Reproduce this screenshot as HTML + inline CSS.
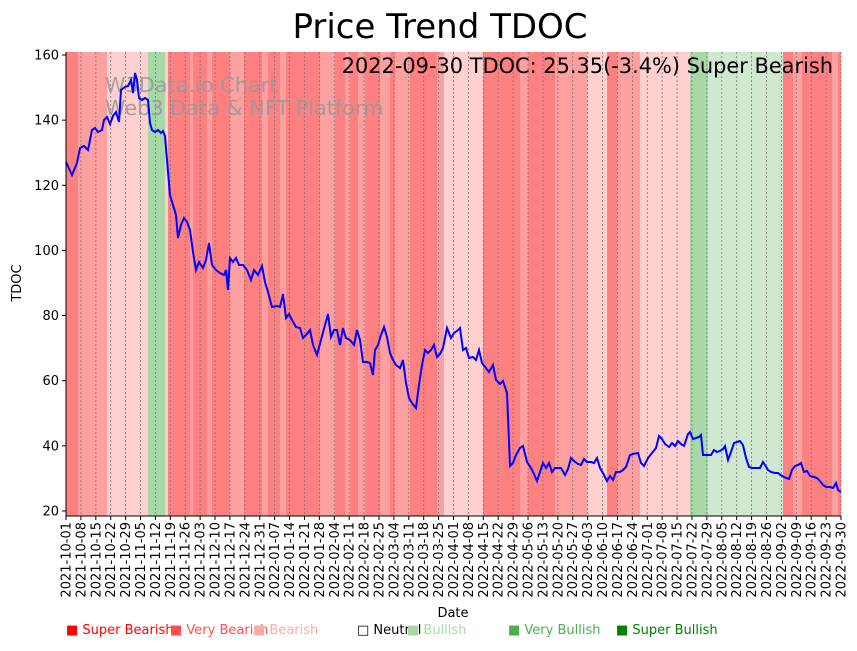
<!DOCTYPE html>
<html><head><style>body{margin:0;background:#fff}svg text{font-family:"DejaVu Sans","Liberation Sans",sans-serif}</style></head><body>
<svg width="857" height="646" viewBox="0 0 857 646" xmlns="http://www.w3.org/2000/svg">
<rect width="857" height="646" fill="#fff"/>
<g id="bands"></g>
<g id="grid"></g>
<text x="440" y="38" font-size="34" text-anchor="middle">Price Trend TDOC</text>
<text x="105" y="92" font-size="20.8" fill="#999" opacity="0.9">W3Data.io Chart</text>
<text x="105" y="115" font-size="20.8" fill="#999" opacity="0.9">Web3 Data &amp; NFT Platform</text>
<text x="833" y="73" font-size="20.9" text-anchor="end">2022-09-30 TDOC: 25.35(-3.4%) Super Bearish</text>
<polyline id="line" fill="none" stroke="#0000ff" stroke-width="2"/>
<g id="axes"></g>
<text x="21" y="283" font-size="13" text-anchor="middle" transform="rotate(-90 21 283)">TDOC</text>
<text x="453" y="617" font-size="13" text-anchor="middle">Date</text>
<g font-size="13">
<text x="66" y="634" fill="#ff0000">■ Super Bearish</text>
<text x="170" y="634" fill="#ff5050">■ Very Bearish</text>
<text x="253" y="634" fill="#ffaaaa">■ Bearish</text>
<text x="357" y="634" fill="#000">□ Neutral</text>
<text x="407" y="634" fill="#a8d8a8">■ Bullish</text>
<text x="508" y="634" fill="#4caf50">■ Very Bullish</text>
<text x="616" y="634" fill="#008000">■ Super Bullish</text>
</g>
</svg>
<script>
const NS="http://www.w3.org/2000/svg";
function el(t,a,p){const e=document.createElementNS(NS,t);for(const k in a)e.setAttribute(k,a[k]);p.appendChild(e);return e;}
const C={1:"#ff8080",2:"#ffa0a0",3:"#ffd0d0",g:"#a8d8a8",l:"#d0e8d0"};
const B=[[66,78,1],[78,107,2],[107,148,3],[148,165,'g'],[165,168,3],[168,190,1],[190,193,2],[193,207,1],[207,212,2],[212,230,1],[230,244,2],[244,262,1],[262,268,2],[268,280,1],[280,286,2],[286,320,1],[320,335,2],[335,345,1],[345,350,2],[350,358,1],[358,365,2],[365,380,1],[380,390,2],[390,395,1],[395,410,2],[410,437,1],[437,444,2],[444,483,3],[483,520,1],[520,528,2],[528,555,1],[555,567,2],[567,587,2],[587,607,3],[607,617,1],[617,640,2],[640,690,3],[690,708,'g'],[708,783,'l'],[783,793,1],[793,802,2],[802,832,1],[832,838,2],[838,841,1]];
const bg=document.getElementById('bands');
B.forEach(b=>el('rect',{x:b[0],y:52,width:b[1]-b[0],height:464,fill:C[b[2]]},bg));
const gr=document.getElementById('grid'),ax=document.getElementById('axes');
const d0=new Date(Date.UTC(2021,9,1));
for(let k=0;k<=52;k++){const x=66+k*14.904;
el('line',{x1:x,x2:x,y1:52,y2:516,stroke:'#777','stroke-width':0.8,'stroke-dasharray':'2,2'},gr);
el('line',{x1:x,x2:x,y1:516,y2:520,stroke:'#000'},ax);
const d=new Date(d0.getTime()+k*7*86400000);const s=d.toISOString().slice(0,10);
const t=el('text',{x:x+4.5,y:522,'font-size':13,'text-anchor':'end',transform:`rotate(-90 ${x+4.5} 522)`},ax);t.textContent=s;}
for(let v=20;v<=160;v+=20){const y=55+(160-v)*3.257;
el('line',{x1:62,x2:66,y1:y,y2:y,stroke:'#000'},ax);
const t=el('text',{x:59,y:y+4.5,'font-size':13,'text-anchor':'end'},ax);t.textContent=v;}
el('line',{x1:66,x2:66,y1:52,y2:516,stroke:'#000'},ax);
el('line',{x1:66,x2:841,y1:516,y2:516,stroke:'#000'},ax);
const P=[66,162,72,175,77,163,80,148,84,146,88,150,92,130,95,128,98,132,102,130,104,120,107,117,110,124,113,116,116,112,119,122,121,90,125,87,128,86,131,80,133,93,135,73,137,80,139,98,142,100,145,98,148,100,150,123,152,130,155,132,158,130,161,133,163,131,165,136,167,160,170,195,176,215,178,238,181,225,184,218,187,222,190,230,193,252,196,270,199,262,203,268,206,260,209,243,212,265,216,270,220,273,224,275,226,270,228,290,230,258,233,262,236,258,239,265,243,265,247,270,251,280,254,270,258,275,262,266,265,282,268,292,272,307,277,306,280,307,283,294,286,318,289,314,292,320,296,327,300,328,303,338,306,335,310,330,313,345,317,355,321,340,325,325,328,314,331,337,334,330,337,330,340,345,343,328,346,338,350,340,354,345,357,330,360,340,363,362,367,362,370,363,373,375,375,350,378,345,381,335,384,327,387,337,390,353,393,360,396,365,400,368,403,360,406,383,409,398,412,403,416,408,419,385,422,365,425,350,428,353,431,350,434,345,437,357,440,354,443,348,447,328,451,338,454,333,458,330,460,328,463,350,466,348,469,358,473,357,476,360,479,350,482,363,486,368,489,372,493,365,496,380,500,384,503,381,507,393,510,466,513,463,516,455,520,448,523,446,527,462,531,468,534,474,537,481,540,472,543,463,546,468,549,463,552,472,555,468,558,468,561,468,565,475,568,469,571,458,574,461,578,464,581,465,584,459,587,462,591,462,594,463,597,458,600,468,604,475,607,481,610,476,613,480,616,472,620,472,623,470,626,467,630,455,633,454,638,453,641,463,644,466,648,458,652,453,656,448,659,436,662,439,665,444,669,447,672,443,675,446,678,441,681,444,684,446,688,434,690,432,693,439,696,438,699,437,701,435,703,455,706,455,711,455,714,450,717,452,720,451,723,449,725,446,728,460,731,452,734,443,737,442,740,441,743,445,746,458,749,467,752,468,756,468,760,468,763,462,765,465,768,470,771,472,775,473,778,473,782,476,786,478,789,479,792,470,795,466,798,465,801,463,804,472,807,471,810,476,814,477,817,478,820,481,823,485,826,487,830,487,833,488,836,483,838,490,841,492];
let s="";for(let i=0;i<P.length;i+=2)s+=P[i]+","+P[i+1]+" ";
document.getElementById('line').setAttribute('points',s);
</script>
</body></html>
